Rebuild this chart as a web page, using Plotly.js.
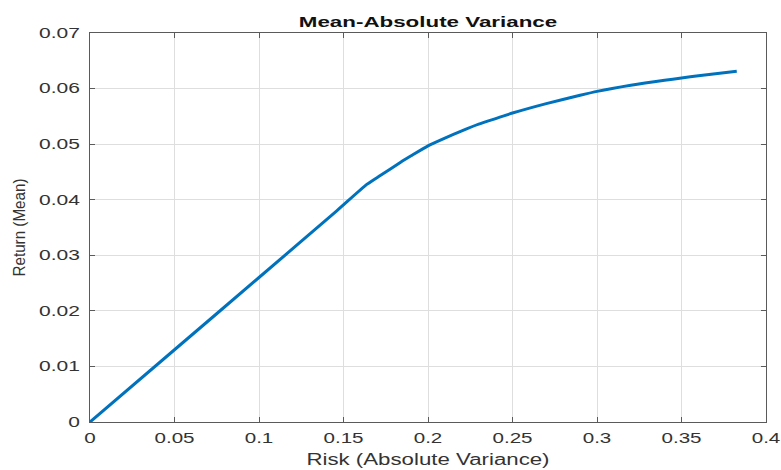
<!DOCTYPE html>
<html>
<head>
<meta charset="utf-8">
<script src="https://cdn.plot.ly/plotly-3.0.1.min.js"></script>
<style>html,body{margin:0;padding:0;background:#fff;}#chart{width:781px;height:470px;}</style>
</head>
<body>
<div id="chart"></div>
<script>
// Efficient frontier: risk (absolute variance) vs return (mean)
const risk = [0, 0.05, 0.10, 0.146, 0.164, 0.172, 0.1836, 0.19, 0.20, 0.21, 0.22, 0.23, 0.24, 0.25, 0.27, 0.29, 0.30, 0.32, 0.34, 0.35, 0.36, 0.3827];
const ret  = [0, 0.0130, 0.0260, 0.0380, 0.0428, 0.0444, 0.0467, 0.0479, 0.0497, 0.0511, 0.0524, 0.0536, 0.0546, 0.0556, 0.0573, 0.0588, 0.0595, 0.0606, 0.0615, 0.0619, 0.0623, 0.0631];
const xTicks = [0, 0.05, 0.1, 0.15, 0.2, 0.25, 0.3, 0.35, 0.4];
const xTickText = ['0', '0.05', '0.1', '0.15', '0.2', '0.25', '0.3', '0.35', '0.4'];
const yTicks = [0, 0.01, 0.02, 0.03, 0.04, 0.05, 0.06, 0.07];
const yTickText = ['0', '0.01', '0.02', '0.03', '0.04', '0.05', '0.06', '0.07'];

const font = 'Liberation Sans, Arial, Helvetica, sans-serif';
const axCommon = {
  showline: true, linecolor: '#5a5a5a', linewidth: 1.3, mirror: 'ticks',
  ticks: 'inside', ticklen: 5, tickcolor: '#5a5a5a', tickwidth: 1,
  showgrid: true, gridcolor: '#dedede', gridwidth: 1,
  zeroline: false, tickfont: {family: font, size: 14, color: '#333'},
  fixedrange: true
};
const layout = {
  width: 781, height: 470,
  margin: {l: 90, r: 15, t: 33, b: 48},
  paper_bgcolor: '#fff', plot_bgcolor: '#fff',
  showlegend: false,
  title: {text: '<b>Mean-Absolute Variance</b>', font: {family: font, size: 15, color: '#111'}, x: 0.5, xref: 'paper', y: 1, yref: 'paper', yanchor: 'bottom', pad: {b: 6}},
  xaxis: Object.assign({}, axCommon, {
    range: [0, 0.4], tickvals: xTicks, ticktext: xTickText, ticklabelstandoff: 3,
    title: {text: 'Risk (Absolute Variance)', font: {family: font, size: 16, color: '#333'}, standoff: 8}
  }),
  yaxis: Object.assign({}, axCommon, {
    range: [0, 0.07], tickvals: yTicks, ticktext: yTickText, ticklabelstandoff: 6,
    title: {text: 'Return (Mean)', font: {family: font, size: 17, color: '#333'}, standoff: 22}
  })
};
const data = [{
  x: risk, y: ret, type: 'scatter', mode: 'lines',
  line: {color: '#0072BD', width: 3, shape: 'spline', smoothing: 0.6},
  hoverinfo: 'none'
}];

// The reference image is horizontally stretched: widen glyphs to match.
function stretch(sel, factor, fixedLen) {
  document.querySelectorAll(sel).forEach(function (t) {
    const len = t.getComputedTextLength();
    if (!len) return;
    t.setAttribute('textLength', fixedLen ? fixedLen : (len * factor).toFixed(1));
    t.setAttribute('lengthAdjust', 'spacingAndGlyphs');
  });
}
Plotly.newPlot('chart', data, layout, {displayModeBar: false, staticPlot: true}).then(function () {
  stretch('.xtick text', 1.47);
  stretch('.ytick text', 1.5);
  stretch('.gtitle', 1.49);
  stretch('.xtitle', 1.39);
  stretch('.ytitle', 0, 98);
});
</script>
</body>
</html>
